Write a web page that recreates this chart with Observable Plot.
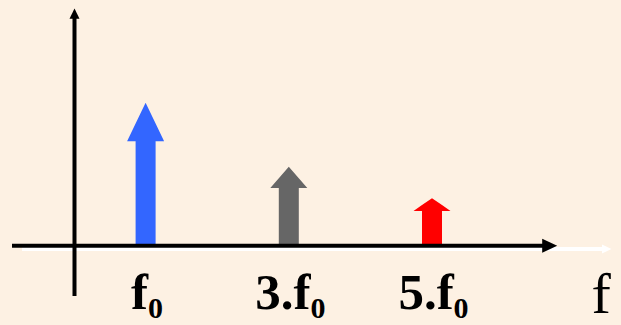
<!DOCTYPE html>
<html>
<head>
<meta charset="utf-8">
<script src="https://cdn.jsdelivr.net/npm/d3@7"></script>
<script src="https://cdn.jsdelivr.net/npm/@observablehq/plot@0.6"></script>
<style>
  html, body { margin: 0; padding: 0; background: #fdf1e3; }
  #chart { width: 621px; height: 325px; overflow: hidden; }
</style>
</head>
<body>
<div id="chart"></div>
<script>
// ---- data ----
const harmonics = [1, 3, 5];            // multiples of f0
const amplitudes = [1, 0.55, 0.33];     // relative amplitude of each line
const labels = ["f0", "3.f0", "5.f0"];  // tick labels (last char is subscript)
const colors = ["#3366ff", "#666666", "#ff0000"];
const axisLabel = "f";

// ---- layout constants ----
const W = 621, H = 325;
const X0 = 74, KX = 71.6;      // pixel of x=0 and px per unit
const Y0 = 245.3, KY = 142.6;  // pixel of y=0 and px per unit
const headFrac = 0.27;
const headHalf = 18.5 / KX, shaftHalf = 10 / KX, shaftBottom = -3.7 / KY;

const spectrum = harmonics.map((h, i) => ({h, a: amplitudes[i], label: labels[i], color: colors[i]}));

// polygon of each block arrow, expressed as an area (x, y1..y2)
const arrowPts = spectrum.flatMap((d, i) => {
  const c = d.h, tip = d.a, hb = d.a * (1 - headFrac);
  const side = hb + (tip - hb) * (1 - shaftHalf / headHalf);
  return [
    {i, color: d.color, x: c - headHalf, y1: hb, y2: hb},
    {i, color: d.color, x: c - shaftHalf, y1: hb, y2: side},
    {i, color: d.color, x: c - shaftHalf, y1: shaftBottom, y2: side},
    {i, color: d.color, x: c, y1: shaftBottom, y2: tip},
    {i, color: d.color, x: c + shaftHalf, y1: shaftBottom, y2: side},
    {i, color: d.color, x: c + shaftHalf, y1: hb, y2: side},
    {i, color: d.color, x: c + headHalf, y1: hb, y2: hb}
  ];
});

const headUp = (len, half) => ({draw(ctx) { ctx.moveTo(0, -len); ctx.lineTo(half, 0); ctx.lineTo(-half, 0); ctx.closePath(); }});
const headRight = (len, half) => ({draw(ctx) { ctx.moveTo(len, 0); ctx.lineTo(0, -half); ctx.lineTo(0, half); ctx.closePath(); }});

const plot = Plot.plot({
  width: W,
  height: H,
  margin: 0,
  style: {background: "#fdf1e3", overflow: "hidden"},
  x: {domain: [0, 1], range: [X0, X0 + KX], axis: null},
  y: {domain: [0, 1], range: [Y0, Y0 - KY], axis: null},
  color: {type: "identity"},
  marks: [
    // spectral lines (block arrows)
    Plot.area(arrowPts, {x1: "x", y1: "y1", y2: "y2", z: "i", fill: "color", curve: "linear"}),
    // white shadow of the frequency axis
    Plot.ruleY([0], {dy: 3.2, insetLeft: 22, insetRight: 18, stroke: "white", strokeWidth: 4}),
    Plot.dot([0], {y: d => d, frameAnchor: "right", dx: -19.5, dy: 3.2, symbol: headRight(9.5, 4.6), fill: "white", stroke: "none"}),
    // frequency axis
    Plot.ruleY([0], {insetLeft: 12, insetRight: 76, stroke: "black", strokeWidth: 4}),
    Plot.dot([0], {y: d => d, frameAnchor: "right", dx: -79.3, symbol: headRight(15, 7), fill: "black", stroke: "none"}),
    // amplitude axis
    Plot.ruleX([0], {insetTop: 16, insetBottom: 29, stroke: "black", strokeWidth: 4}),
    Plot.dot([0], {x: d => d, frameAnchor: "top", dy: 18.3, symbol: headUp(10.3, 5), fill: "black", stroke: "none"}),
    // tick labels
    Plot.text(spectrum, {x: "h", y: 0, text: "label", dx: 1, dy: 63, lineAnchor: "bottom", textAnchor: "middle",
      fontFamily: "Liberation Serif", fontWeight: "bold", fontSize: 51, fill: "black"}),
    // axis name
    Plot.text([axisLabel], {frameAnchor: "bottom-right", textAnchor: "start", lineAnchor: "bottom", dx: -30, dy: -13,
      fontFamily: "Liberation Serif", fontSize: 58, fill: "black"})
  ]
});

// render the trailing "0" of each tick label as a subscript
const ns = "http://www.w3.org/2000/svg";
plot.querySelectorAll("text").forEach(t => {
  const s = t.textContent;
  if (!labels.includes(s)) return;
  while (t.firstChild) t.removeChild(t.firstChild);
  const main = document.createElementNS(ns, "tspan");
  main.textContent = s.slice(0, -1);
  const sub = document.createElementNS(ns, "tspan");
  sub.textContent = s.slice(-1);
  sub.setAttribute("dy", "9");
  sub.setAttribute("font-size", "30");
  t.appendChild(main);
  t.appendChild(sub);
});

document.getElementById("chart").append(plot);
</script>
</body>
</html>
